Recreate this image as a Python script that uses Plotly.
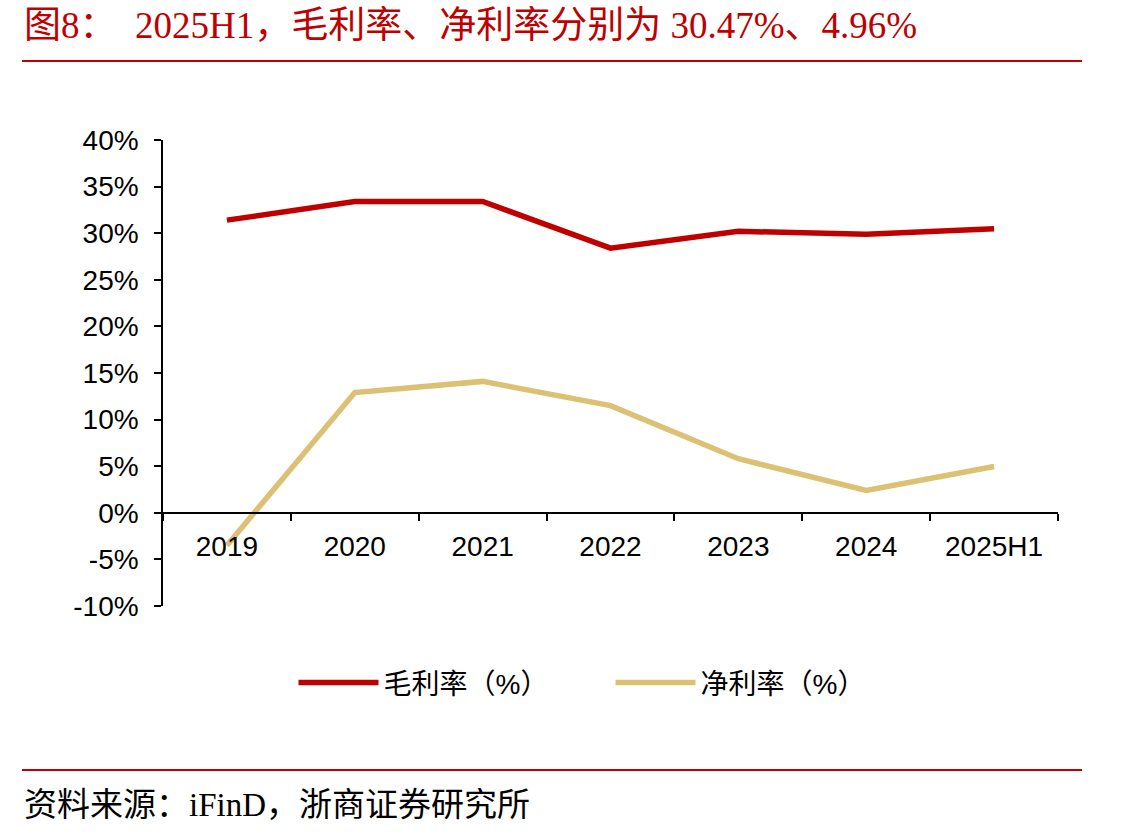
import plotly.graph_objects as go

categories = ["2019", "2020", "2021", "2022", "2023", "2024", "2025H1"]
gross_margin = [31.4, 33.4, 33.4, 28.4, 30.2, 29.9, 30.47]
net_margin = [-3.5, 12.9, 14.1, 11.5, 5.8, 2.4, 4.96]
y_ticks = [-10, -5, 0, 5, 10, 15, 20, 25, 30, 35, 40]
y_tick_labels = [f"{v}%" for v in y_ticks]

title_text = "图8：  2025H1，毛利率、净利率分别为 30.47%、4.96%"
source_text = "资料来源：iFinD，浙商证券研究所"

RED = "#C00000"
GOLD = "#DCC174"
SANS = "Liberation Sans, Arial, Noto Sans CJK SC, sans-serif"
SERIF = "Liberation Serif, Times New Roman, Noto Sans CJK SC, serif"

fig = go.Figure()
fig.add_trace(go.Scatter(x=categories, y=gross_margin, mode="lines", name="毛利率（%）",
                         line=dict(color=RED, width=5.5)))
fig.add_trace(go.Scatter(x=categories, y=net_margin, mode="lines", name="净利率（%）",
                         line=dict(color=GOLD, width=5.5)))

fig.update_layout(
    width=1141, height=838,
    margin=dict(l=163, r=83, t=140, b=232),
    paper_bgcolor="white", plot_bgcolor="white",
    font=dict(family=SANS, size=28, color="black"),
    showlegend=True,
    legend=dict(orientation="h", x=0.5, xanchor="center", y=-0.165, yanchor="middle",
                font=dict(family=SANS, size=28), itemwidth=80, entrywidth=222,
                tracegroupgap=0, itemclick=False),
    xaxis=dict(type="category", range=[-0.5, 6.5], tickson="boundaries",
               anchor="free", position=0.2, showline=True, linecolor="black", linewidth=1.5,
               ticks="outside", ticklen=7, tickcolor="black", tickwidth=1.5,
               showgrid=False, zeroline=False, tickfont=dict(size=28), ticklabelstandoff=9),
    yaxis=dict(range=[-10, 40], tickvals=y_ticks, ticktext=y_tick_labels,
               showline=True, linecolor="black", linewidth=1.5,
               ticks="outside", ticklen=7, tickcolor="black", tickwidth=1.5,
               showgrid=False, zeroline=False, tickfont=dict(size=28), ticklabelstandoff=10),
)

fig.add_annotation(text=title_text, xref="paper", yref="paper", x=(22 - 163) / 895,
                   y=1 + (140 - 26) / 466, xanchor="left", yanchor="middle", showarrow=False,
                   font=dict(family=SERIF, size=37, color=RED))
fig.add_shape(type="line", xref="paper", yref="paper", x0=(22 - 163) / 895, x1=(1082 - 163) / 895,
              y0=1 + (140 - 61) / 466, y1=1 + (140 - 61) / 466, line=dict(color=RED, width=2))
fig.add_shape(type="line", xref="paper", yref="paper", x0=(22 - 163) / 895, x1=(1082 - 163) / 895,
              y0=-(770 - 606) / 466, y1=-(770 - 606) / 466, line=dict(color=RED, width=2))
fig.add_annotation(text=source_text, xref="paper", yref="paper", x=(22 - 163) / 895,
                   y=-(805 - 606) / 466, xanchor="left", yanchor="middle", showarrow=False,
                   font=dict(family=SERIF, size=33, color="black"))

fig.write_html("out.html")
